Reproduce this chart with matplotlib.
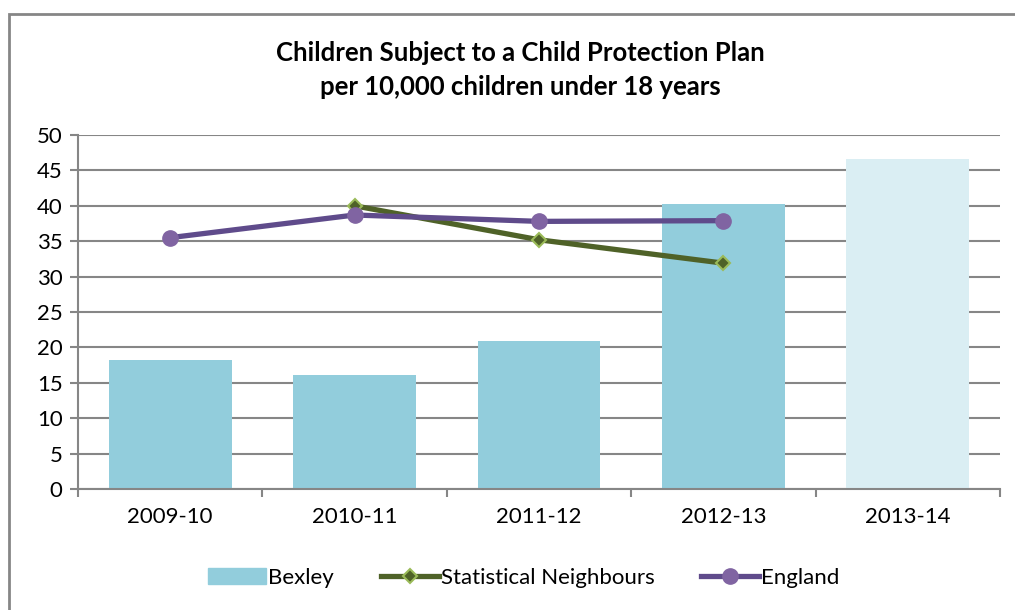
import matplotlib
matplotlib.use("Agg")
import matplotlib.pyplot as plt
from matplotlib.patches import Rectangle, Patch
from matplotlib.lines import Line2D

# datos
years = ["2009-10", "2010-11", "2011-12", "2012-13", "2013-14"]
bexley = [18.2, 16.1, 20.9, 40.2, 46.6]
stat_neigh = [None, 40.0, 35.2, 31.9, None]
england = [35.5, 38.7, 37.8, 37.9, None]

plt.rcParams['font.family'] = ['Lato', 'DejaVu Sans']

fig = plt.figure(figsize=(10.15, 6.1), dpi=100)
ax = fig.add_axes([78/1015, 1-489/610, 922/1015, 354/610])

grey = '#868686'
x = list(range(len(years)))
colores = ['#92CDDC'] * 4 + ['#DAEEF3']
ax.bar(x, bexley, width=0.667, color=colores, zorder=2)

xs = [i for i, v in zip(x, stat_neigh) if v is not None]
ys = [v for v in stat_neigh if v is not None]
ax.plot(xs, ys, color='#4F6228', lw=3.8, marker='D', markersize=7,
        markerfacecolor='#4F6228', markeredgecolor='#9BBB59', markeredgewidth=1.5, zorder=3)
xe = [i for i, v in zip(x, england) if v is not None]
ye = [v for v in england if v is not None]
ax.plot(xe, ye, color='#5F4B8B', lw=3.8, marker='o', markersize=11,
        markerfacecolor='#8064A2', markeredgecolor='#8064A2', zorder=4)

ax.set_xlim(-0.5, 4.5)
ax.set_ylim(0, 50)
ax.set_yticks(range(0, 51, 5))
ax.set_xticks(x)
ax.set_xticklabels(years)
ax.set_xticks([i - 0.5 for i in range(6)], minor=True)
ax.tick_params(axis='x', which='major', length=0, pad=13, labelsize=16)
ax.tick_params(axis='x', which='minor', length=6, width=1.5, color=grey, direction='out')
ax.tick_params(axis='y', length=6, width=1.5, color=grey, labelsize=16, pad=5)
ax.grid(axis='y', color=grey, lw=1.5, zorder=1)
ax.set_axisbelow(True)
for s in ['top', 'right']:
    ax.spines[s].set_visible(False)
for s in ['left', 'bottom']:
    ax.spines[s].set_color(grey)
    ax.spines[s].set_linewidth(1.5)

# titulo
fig.text(520/1015, 1-53/610, "Children Subject to a Child Protection Plan",
         ha='center', va='center', fontsize=18.5, fontweight='bold')
fig.text(520/1015, 1-87/610, "per 10,000 children under 18 years",
         ha='center', va='center', fontsize=18.5, fontweight='bold')

# leyenda
handles = [Patch(color='#92CDDC'),
           Line2D([], [], color='#4F6228', lw=3.8, marker='D', markersize=7,
                  markerfacecolor='#4F6228', markeredgecolor='#9BBB59', markeredgewidth=1.5),
           Line2D([], [], color='#5F4B8B', lw=3.8, marker='o', markersize=11,
                  markerfacecolor='#8064A2', markeredgecolor='#8064A2')]
fig.legend(handles, ["Bexley", "Statistical Neighbours", "England"], loc='center',
           bbox_to_anchor=(524/1015, 1-578/610), ncol=3, frameon=False, fontsize=16,
           handlelength=2.6, handletextpad=0.1, columnspacing=2.1)

# borde del grafico
fig.patches.append(Rectangle((9/1015, -0.1), 2, (610-14)/610 + 0.1, transform=fig.transFigure,
                             fill=False, edgecolor=grey, lw=2))

fig.savefig("out.png", dpi=100)
